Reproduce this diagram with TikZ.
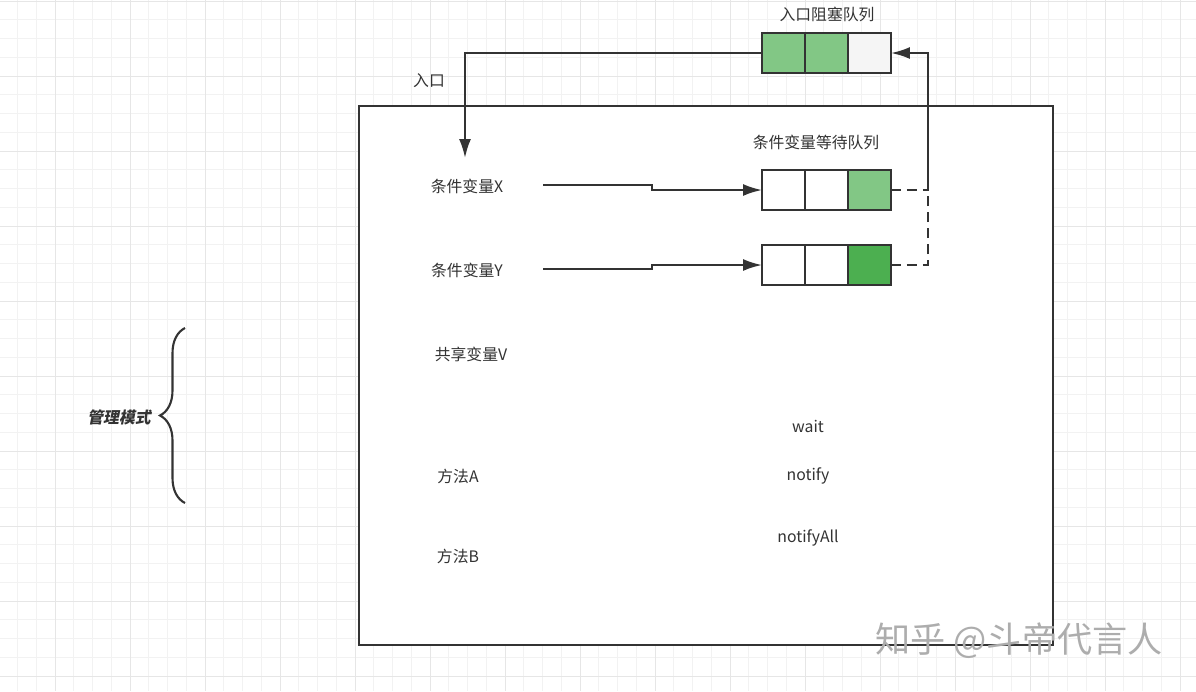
\documentclass[tikz,border=0pt]{standalone}
\usepackage{fontspec}
\setmainfont{Noto Sans CJK SC}
\newfontfamily\slantfont{Noto Sans CJK SC}[FakeSlant=0.2]
\usetikzlibrary{positioning}
\usetikzlibrary{arrows.meta}
\usetikzlibrary{decorations.pathreplacing}
\definecolor{inkgray}{HTML}{333333}
\definecolor{lightgreen}{HTML}{82C785}
\definecolor{darkgreen}{HTML}{4CAF50}
\definecolor{paleslot}{HTML}{F5F5F5}
\definecolor{gridminor}{HTML}{F2F2F2}
\definecolor{gridmajor}{HTML}{E6E6E6}
\tikzset {
  x=0.02cm, y=-0.02cm,
  % one slot of a queue
  slot/.style = {draw=inkgray, line width=1.6pt, fill=white, minimum width=0.86cm,
    minimum height=0.8cm, inner sep=0pt, outer sep=0pt},
  % plain text
  txt/.style = {text=inkgray, font=\fontsize{9}{11}\selectfont},
  % the monitor frame
  monitorbox/.style = {draw=inkgray, line width=1.1pt, fill=white, minimum width=13.88cm,
    minimum height=10.78cm, inner sep=0pt, outer sep=0pt},
  % solid arrows and dashed wake-up links
  flow/.style = {draw=inkgray, line width=1.2pt, -{Latex[length=0.38cm,width=0.24cm]}},
  waitlink/.style = {draw=inkgray, line width=1.2pt, dash pattern=on 0.2cm off 0.12cm},
}

\begin{document}
\begin{tikzpicture}
  \useasboundingbox (0,0) rectangle (1196,691);
  \fill[white] (0,0) rectangle (1196,691);

  % background grid
  \begin{scope}
    \clip (0,0) rectangle (1196,691);
    \foreach \i in {0,...,64}
      \draw[gridminor, line width=0.45pt] ({-1.25+18.75*\i},0) -- ({-1.25+18.75*\i},691);
    \foreach \j in {0,...,37}
      \draw[gridminor, line width=0.45pt] (0,{1+18.75*\j}) -- (1196,{1+18.75*\j});
    \foreach \i in {0,...,16}
      \draw[gridmajor, line width=0.5pt] ({-20+75*\i},0) -- ({-20+75*\i},691);
    \foreach \j in {0,...,9}
      \draw[gridmajor, line width=0.5pt] (0,{1+75*\j}) -- (1196,{1+75*\j});
  \end{scope}

  \node[monitorbox] (monitor) at (706,375.5) {};

  % labels
  \node[txt] (inqtitle) at (827,14) {入口阻塞队列};
  \node[txt] (entry) at (429,81) {入口};
  \node[txt] (waitqtitle) at (816,142) {条件变量等待队列};
  \node[txt] (cx) at (467,186) {条件变量X};
  \node[txt] (cy) at (467,270) {条件变量Y};
  \node[txt] (shared) at (471,354) {共享变量V};
  \node[txt] (ma) at (458,476) {方法A};
  \node[txt] (mb) at (458,556) {方法B};
  \node[txt] (wait) at (808,426) {wait};
  \node[txt] (notify) at (808,476) {notify};
  \node[txt] (notifyall) at (808,538) {notifyAll};
  \node[txt, font=\fontsize{9}{11}\selectfont\slantfont\bfseries] (mode) at (119,417) {管理模式};

  % entry queue
  \node[slot, fill=lightgreen] (in1) at (783.5,53) {};
  \node[slot, fill=lightgreen, right=0pt of in1] (in2) {};
  \node[slot, fill=paleslot, right=0pt of in2] (in3) {};

  % wait queue of X
  \node[slot] (x1) at (783.5,190) {};
  \node[slot, right=0pt of x1] (x2) {};
  \node[slot, fill=lightgreen, right=0pt of x2] (x3) {};

  % wait queue of Y
  \node[slot] (y1) at (783.5,265) {};
  \node[slot, right=0pt of y1] (y2) {};
  \node[slot, fill=darkgreen, right=0pt of y2] (y3) {};

  \coordinate (xin) at (465,158);
  \coordinate (xfrom) at (543,185);
  \coordinate (yfrom) at (543,269);
  \coordinate (back) at (928,190);

  \draw[flow] (in1.west) -| (xin);
  \draw[flow] (xfrom) -- (652,185) |- (x1.west);
  \draw[flow] (yfrom) -- (652,269) |- (y1.west);
  \draw[waitlink] (x3.east) -- (back);
  \draw[waitlink] (y3.east) -| (back);
  \draw[flow] (back) |- (in3.east);

  % brace for the monitor
  \draw[inkgray, line width=1.2pt, decorate, decoration={brace, amplitude=0.5cm}]
    (185,503) -- (185,328);

  \node[font=\fontsize{20}{22}\selectfont, text=black!32] (mark) at (1019,641) {知乎 @斗帝代言人};
\end{tikzpicture}
\end{document}
